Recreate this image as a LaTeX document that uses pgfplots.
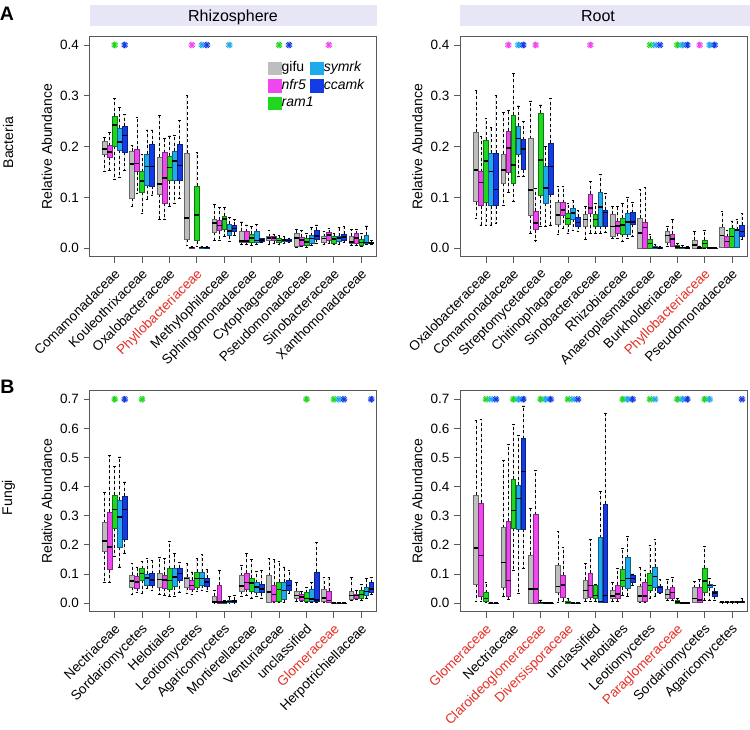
\documentclass[border=0pt]{standalone}
\usepackage{fontspec}
\setmainfont{Liberation Sans}
\usepackage{pgfplots}
\pgfplotsset{compat=1.18}
\usepgfplotslibrary{statistics}

\definecolor{cgifu}{RGB}{190,190,190}
\definecolor{cnfr}{RGB}{240,70,240}
\definecolor{cram}{RGB}{30,215,30}
\definecolor{csym}{RGB}{30,170,235}
\definecolor{ccam}{RGB}{20,60,230}
\definecolor{cred}{RGB}{230,45,35}
\definecolor{strip}{RGB}{230,230,246}

% box: colour, offset, group, lower whisker, Q1, median, Q3, upper whisker
\newcommand{\bp}[8]{%
  \addplot[forget plot, fill=#1, draw=#1!55!black, line width=0.5pt,
    boxplot prepared={draw direction=y, draw position={#3+(#2)}, lower whisker=#4, lower quartile=#5,
      median=#6, upper quartile=#7, upper whisker=#8}] coordinates {};}
\newcommand{\bxG}[6]{\bp{cgifu}{-0.365}{#1}{#2}{#3}{#4}{#5}{#6}}
\newcommand{\bxN}[6]{\bp{cnfr}{-0.1825}{#1}{#2}{#3}{#4}{#5}{#6}}
\newcommand{\bxR}[6]{\bp{cram}{0}{#1}{#2}{#3}{#4}{#5}{#6}}
\newcommand{\bxS}[6]{\bp{csym}{0.1825}{#1}{#2}{#3}{#4}{#5}{#6}}
\newcommand{\bxC}[6]{\bp{ccam}{0.365}{#1}{#2}{#3}{#4}{#5}{#6}}
% significance asterisks
\newcommand{\sig}[2]{%
  \addplot[forget plot, only marks, mark=asterisk, mark size=3.4pt, color=#1, line width=0.9pt] coordinates {#2};
  \addplot[forget plot, only marks, mark=asterisk, mark size=3.4pt, mark options={rotate=90}, color=#1, line width=0.9pt] coordinates {#2};}

\newcommand{\tf}{\fontsize{13.5}{14}\selectfont}
\pgfplotsset{
  panel/.style={
    scale only axis, height=220pt,
    xtick={1,...,10}, xtick pos=bottom, ytick pos=left,
    tick align=outside, major tick length=6pt,
    axis line style={draw=black!65, line width=0.9pt},
    every tick/.style={black!65, line width=0.9pt},
    xticklabel style={yshift=-5pt, xshift=-1pt, rotate=45, anchor=north east, inner sep=0pt, font=\tf},
    yticklabel style={font=\tf, inner sep=1.5pt, xshift=-3pt},
    scaled y ticks=false,
    ylabel={Relative Abundance},
    every axis y label/.style={at={(axis description cs:-0.149,0.5)}, rotate=90, anchor=center, font=\fontsize{14}{16}\selectfont},
    boxplot/draw direction=y,
    boxplot/box extend=0.175,
    boxplot/whisker extend=0.1,
    boxplot/every median/.style={black, line width=1.5pt},
    boxplot/every whisker/.style={black, line width=0.7pt, dash pattern=on 3pt off 2.5pt},
    /pgf/number format/assume math mode=true,
  },
  bact/.style={panel, ymin=-0.0165, ymax=0.4163, ytick={0,0.1,0.2,0.3,0.4}, yticklabels={0.0,0.1,0.2,0.3,0.4}},
  fung/.style={panel, height=221pt, ymin=-0.0295, ymax=0.7294, ytick={0,0.1,0.2,0.3,0.4,0.5,0.6,0.7}, yticklabels={0.0,0.1,0.2,0.3,0.4,0.5,0.6,0.7}},
}

\begin{document}
\begin{tikzpicture}
\path[use as bounding box] (0pt,0pt) rectangle (750pt,729pt);

% strips and panel letters
\fill[strip] (89.5pt,703.3pt) rectangle (377pt,724pt);
\node[anchor=base, font=\fontsize{16}{18}\selectfont] at (233pt,707pt) {Rhizosphere};
\fill[strip] (460pt,703.3pt) rectangle (750pt,724pt);
\node[anchor=base, font=\fontsize{16}{18}\selectfont] at (598pt,707pt) {Root};
\node[font=\fontsize{19.5}{20}\selectfont\bfseries, inner sep=0pt] at (7pt,715.3pt) {A};
\node[font=\fontsize{19.5}{20}\selectfont\bfseries, inner sep=0pt] at (7.5pt,342pt) {B};
\node[rotate=90, font=\fontsize{14}{16}\selectfont] at (8pt,586.5pt) {Bacteria};
\node[rotate=90, font=\fontsize{14}{16}\selectfont] at (8.5pt,231.5pt) {Fungi};

% ---------------- Bacteria, Rhizosphere ----------------
\begin{axis}[bact, at={(89.7pt,472.3pt)}, anchor=south west, width=286.6pt,
  xmin=0.089, xmax=10.547,
  xticklabels={Comamonadaceae, Kouleothrixaceae, Oxalobacteraceae, \textcolor{cred}{Phyllobacteriaceae}, Methylophilaceae, Sphingomonadaceae, Cytophagaceae, Pseudomonadaceae, Sinobacteraceae, Xanthomonadaceae},
  legend columns=2,
  legend image code/.code={\fill (0pt,-6.3pt) rectangle (12.6pt,6.3pt);},
  legend style={draw=none, fill=none, inner sep=0pt, row sep=0pt,
    at={(axis description cs:0.622,0.8975)}, anchor=north west,
    font=\fontsize{14}{16}\selectfont,
    nodes={inner sep=2pt, text height=10.5pt, text depth=3pt},
    /tikz/every odd column/.append style={column sep=-1.5pt},
    /tikz/every even column/.append style={column sep=-5.3pt}},
  legend cell align=left]
\addlegendimage{cgifu}\addlegendentry{gifu}
\addlegendimage{csym}\addlegendentry{\textit{symrk}}
\addlegendimage{cnfr}\addlegendentry{\textit{nfr5}}
\addlegendimage{ccam}\addlegendentry{\textit{ccamk}}
\addlegendimage{cram}\addlegendentry{\textit{ram1}}
\bxG{1}{0.152}{0.185}{0.195}{0.211}{0.218}
\bxN{1}{0.153}{0.180}{0.189}{0.202}{0.228}
\bxR{1}{0.136}{0.201}{0.243}{0.260}{0.295}
\bxS{1}{0.139}{0.193}{0.209}{0.237}{0.277}
\bxC{1}{0.154}{0.189}{0.222}{0.240}{0.264}
\bxG{2}{0.082}{0.098}{0.166}{0.191}{0.202}
\bxN{2}{0.108}{0.151}{0.167}{0.195}{0.257}
\bxR{2}{0.068}{0.110}{0.132}{0.151}{0.185}
\bxS{2}{0.096}{0.124}{0.161}{0.186}{0.233}
\bxC{2}{0.105}{0.123}{0.161}{0.205}{0.233}
\bxG{3}{0.057}{0.106}{0.127}{0.180}{0.261}
\bxN{3}{0.057}{0.089}{0.138}{0.188}{0.216}
\bxR{3}{0.082}{0.133}{0.159}{0.182}{0.221}
\bxS{3}{0.089}{0.133}{0.172}{0.191}{0.222}
\bxC{3}{0.098}{0.133}{0.163}{0.205}{0.251}
\bxG{4}{0.005}{0.018}{0.060}{0.187}{0.300}
\bxN{4}{0.000}{0.001}{0.002}{0.003}{0.004}
\bxR{4}{0.003}{0.015}{0.066}{0.123}{0.188}
\bxS{4}{0.000}{0.001}{0.002}{0.003}{0.004}
\bxC{4}{0.000}{0.001}{0.002}{0.003}{0.004}
\bxG{5}{0.015}{0.032}{0.050}{0.057}{0.087}
\bxN{5}{0.015}{0.035}{0.045}{0.056}{0.080}
\bxR{5}{0.023}{0.038}{0.058}{0.064}{0.080}
\bxS{5}{0.013}{0.025}{0.034}{0.047}{0.060}
\bxC{5}{0.026}{0.033}{0.039}{0.045}{0.056}
\bxG{6}{0.007}{0.012}{0.014}{0.034}{0.052}
\bxN{6}{0.007}{0.012}{0.014}{0.033}{0.046}
\bxR{6}{0.005}{0.012}{0.020}{0.028}{0.043}
\bxS{6}{0.007}{0.012}{0.015}{0.033}{0.047}
\bxC{6}{0.012}{0.014}{0.016}{0.019}{0.020}
\bxG{7}{0.007}{0.015}{0.020}{0.023}{0.036}
\bxN{7}{0.010}{0.016}{0.020}{0.024}{0.028}
\bxR{7}{0.008}{0.012}{0.015}{0.019}{0.025}
\bxS{7}{0.010}{0.013}{0.016}{0.018}{0.023}
\bxC{7}{0.011}{0.013}{0.015}{0.017}{0.019}
\bxG{8}{0.002}{0.005}{0.020}{0.030}{0.037}
\bxN{8}{0.003}{0.007}{0.016}{0.022}{0.036}
\bxR{8}{0.002}{0.007}{0.012}{0.020}{0.030}
\bxS{8}{0.006}{0.010}{0.019}{0.025}{0.041}
\bxC{8}{0.010}{0.018}{0.024}{0.036}{0.046}
\bxG{9}{0.007}{0.012}{0.019}{0.023}{0.033}
\bxN{9}{0.010}{0.015}{0.026}{0.031}{0.039}
\bxR{9}{0.007}{0.010}{0.018}{0.023}{0.030}
\bxS{9}{0.008}{0.014}{0.020}{0.024}{0.041}
\bxC{9}{0.011}{0.015}{0.022}{0.028}{0.043}
\bxG{10}{0.005}{0.009}{0.012}{0.024}{0.037}
\bxN{10}{0.005}{0.010}{0.020}{0.029}{0.037}
\bxR{10}{0.003}{0.007}{0.011}{0.018}{0.030}
\bxS{10}{0.007}{0.010}{0.011}{0.026}{0.044}
\bxC{10}{0.007}{0.009}{0.010}{0.012}{0.015}
\sig{cnfr}{(3.8175,0.4) (8.8175,0.4)}
\sig{cram}{(1,0.4) (7,0.4)}
\sig{csym}{(4.1825,0.4) (5.1825,0.4)}
\sig{ccam}{(1.365,0.4) (4.365,0.4) (7.365,0.4)}
\end{axis}

% ---------------- Bacteria, Root ----------------
\begin{axis}[bact, at={(460pt,472.3pt)}, anchor=south west, width=287.3pt,
  xmin=0.049, xmax=10.56,
  xticklabels={Oxalobacteraceae, Comamonadaceae, Streptomycetaceae, Chitinophagaceae, Sinobacteraceae, Rhizobiaceae, Anaeroplasmataceae, Burkholderiaceae, \textcolor{cred}{Phyllobacteriaceae}, Pseudomonadaceae},
  every axis y label/.append style={at={(axis description cs:-0.148,0.5)}}]
\bxG{1}{0.059}{0.092}{0.154}{0.228}{0.311}
\bxN{1}{0.046}{0.084}{0.129}{0.151}{0.220}
\bxR{1}{0.046}{0.090}{0.172}{0.213}{0.256}
\bxS{1}{0.046}{0.084}{0.151}{0.187}{0.238}
\bxC{1}{0.050}{0.084}{0.116}{0.187}{0.300}
\bxG{2}{0.085}{0.128}{0.154}{0.186}{0.268}
\bxN{2}{0.110}{0.150}{0.197}{0.231}{0.271}
\bxR{2}{0.093}{0.128}{0.164}{0.262}{0.344}
\bxS{2}{0.141}{0.185}{0.216}{0.241}{0.280}
\bxC{2}{0.141}{0.155}{0.195}{0.214}{0.250}
\bxG{3}{0.030}{0.066}{0.115}{0.216}{0.290}
\bxN{3}{0.015}{0.037}{0.050}{0.073}{0.118}
\bxR{3}{0.043}{0.105}{0.174}{0.266}{0.282}
\bxS{3}{0.043}{0.089}{0.119}{0.161}{0.200}
\bxC{3}{0.046}{0.106}{0.161}{0.207}{0.295}
\bxG{4}{0.028}{0.047}{0.066}{0.090}{0.121}
\bxN{4}{0.039}{0.066}{0.075}{0.090}{0.121}
\bxR{4}{0.030}{0.048}{0.059}{0.069}{0.089}
\bxS{4}{0.036}{0.058}{0.069}{0.079}{0.095}
\bxC{4}{0.034}{0.044}{0.051}{0.061}{0.075}
\bxG{5}{0.018}{0.043}{0.057}{0.067}{0.082}
\bxN{5}{0.030}{0.068}{0.079}{0.106}{0.131}
\bxR{5}{0.030}{0.044}{0.057}{0.067}{0.089}
\bxS{5}{0.030}{0.044}{0.081}{0.111}{0.146}
\bxC{5}{0.031}{0.044}{0.070}{0.075}{0.108}
\bxG{6}{0.020}{0.024}{0.043}{0.067}{0.082}
\bxN{6}{0.020}{0.030}{0.044}{0.054}{0.082}
\bxR{6}{0.014}{0.028}{0.046}{0.059}{0.089}
\bxS{6}{0.020}{0.028}{0.052}{0.069}{0.100}
\bxC{6}{0.023}{0.047}{0.052}{0.070}{0.090}
\bxG{7}{0.000}{0.000}{0.030}{0.059}{0.116}
\bxN{7}{0.000}{0.000}{0.041}{0.051}{0.120}
\bxR{7}{0.000}{0.000}{0.009}{0.018}{0.028}
\bxS{7}{0.000}{0.000}{0.002}{0.005}{0.008}
\bxC{7}{0.000}{0.000}{0.001}{0.002}{0.003}
\bxG{8}{0.003}{0.012}{0.025}{0.034}{0.043}
\bxN{8}{0.003}{0.005}{0.018}{0.028}{0.056}
\bxR{8}{0.000}{0.001}{0.003}{0.006}{0.010}
\bxS{8}{0.000}{0.001}{0.002}{0.003}{0.005}
\bxC{8}{0.000}{0.000}{0.001}{0.002}{0.003}
\bxG{9}{0.000}{0.001}{0.007}{0.016}{0.033}
\bxN{9}{0.000}{0.000}{0.001}{0.002}{0.003}
\bxR{9}{0.000}{0.002}{0.009}{0.016}{0.036}
\bxS{9}{0.000}{0.000}{0.001}{0.001}{0.002}
\bxC{9}{0.000}{0.000}{0.001}{0.001}{0.002}
\bxG{10}{0.002}{0.003}{0.025}{0.041}{0.072}
\bxN{10}{0.002}{0.003}{0.013}{0.023}{0.036}
\bxR{10}{0.002}{0.003}{0.023}{0.039}{0.054}
\bxS{10}{0.002}{0.003}{0.036}{0.037}{0.057}
\bxC{10}{0.017}{0.023}{0.033}{0.045}{0.068}
\sig{cnfr}{(1.8175,0.4) (2.8175,0.4) (4.8175,0.4) (8.8175,0.4)}
\sig{cram}{(7,0.4) (8,0.4)}
\sig{csym}{(2.1825,0.4) (7.1825,0.4) (8.1825,0.4) (9.1825,0.4)}
\sig{ccam}{(2.365,0.4) (7.365,0.4) (8.365,0.4) (9.365,0.4)}
\end{axis}

% ---------------- Fungi, Rhizosphere ----------------
\begin{axis}[fung, at={(89.7pt,117.3pt)}, anchor=south west, width=286.6pt,
  xmin=0.089, xmax=10.547,
  xticklabels={Nectriaceae, Sordariomycetes, Helotiales, Leotiomycetes, Agaricomycetes, Mortierellaceae, Venturiaceae, unclassified, \textcolor{cred}{Glomeraceae}, Herpotrichiellaceae}]
\bxG{1}{0.072}{0.179}{0.213}{0.276}{0.381}
\bxN{1}{0.072}{0.115}{0.192}{0.313}{0.507}
\bxR{1}{0.160}{0.257}{0.322}{0.371}{0.469}
\bxS{1}{0.124}{0.192}{0.296}{0.353}{0.502}
\bxC{1}{0.170}{0.221}{0.321}{0.367}{0.416}
\bxG{2}{0.030}{0.055}{0.076}{0.095}{0.137}
\bxN{2}{0.036}{0.052}{0.072}{0.093}{0.124}
\bxR{2}{0.032}{0.078}{0.101}{0.118}{0.144}
\bxS{2}{0.049}{0.063}{0.086}{0.099}{0.152}
\bxC{2}{0.044}{0.061}{0.080}{0.101}{0.147}
\bxG{3}{0.029}{0.053}{0.081}{0.104}{0.158}
\bxN{3}{0.026}{0.052}{0.080}{0.095}{0.152}
\bxR{3}{0.023}{0.049}{0.078}{0.118}{0.212}
\bxS{3}{0.023}{0.057}{0.089}{0.121}{0.172}
\bxC{3}{0.038}{0.078}{0.101}{0.121}{0.141}
\bxG{4}{0.032}{0.055}{0.084}{0.088}{0.135}
\bxN{4}{0.029}{0.047}{0.061}{0.078}{0.107}
\bxR{4}{0.040}{0.055}{0.084}{0.107}{0.152}
\bxS{4}{0.044}{0.063}{0.084}{0.107}{0.166}
\bxC{4}{0.041}{0.057}{0.072}{0.086}{0.115}
\bxG{5}{0.001}{0.002}{0.003}{0.023}{0.044}
\bxN{5}{0.001}{0.001}{0.003}{0.061}{0.112}
\bxR{5}{0.000}{0.001}{0.003}{0.006}{0.009}
\bxS{5}{0.001}{0.002}{0.006}{0.011}{0.023}
\bxC{5}{0.001}{0.002}{0.007}{0.011}{0.026}
\bxG{6}{0.024}{0.041}{0.058}{0.094}{0.129}
\bxN{6}{0.026}{0.049}{0.070}{0.103}{0.170}
\bxR{6}{0.018}{0.041}{0.069}{0.086}{0.149}
\bxS{6}{0.024}{0.038}{0.055}{0.070}{0.110}
\bxC{6}{0.018}{0.036}{0.049}{0.066}{0.112}
\bxG{7}{0.001}{0.003}{0.038}{0.094}{0.152}
\bxN{7}{0.001}{0.006}{0.029}{0.063}{0.150}
\bxR{7}{0.001}{0.006}{0.047}{0.072}{0.144}
\bxS{7}{0.003}{0.013}{0.044}{0.072}{0.124}
\bxC{7}{0.032}{0.044}{0.061}{0.077}{0.112}
\bxG{8}{0.006}{0.015}{0.026}{0.040}{0.070}
\bxN{8}{0.006}{0.011}{0.021}{0.030}{0.040}
\bxR{8}{0.001}{0.006}{0.015}{0.036}{0.055}
\bxS{8}{0.001}{0.008}{0.014}{0.047}{0.072}
\bxC{8}{0.001}{0.006}{0.011}{0.107}{0.207}
\bxG{9}{0.001}{0.006}{0.017}{0.047}{0.089}
\bxN{9}{0.001}{0.003}{0.009}{0.041}{0.089}
\bxR{9}{0.000}{0.000}{0.001}{0.001}{0.002}
\bxS{9}{0.000}{0.000}{0.001}{0.001}{0.002}
\bxC{9}{0.000}{0.000}{0.001}{0.001}{0.002}
\bxG{10}{0.009}{0.014}{0.026}{0.042}{0.089}
\bxN{10}{0.013}{0.017}{0.026}{0.032}{0.044}
\bxR{10}{0.009}{0.015}{0.029}{0.044}{0.064}
\bxS{10}{0.018}{0.026}{0.040}{0.055}{0.084}
\bxC{10}{0.029}{0.036}{0.049}{0.070}{0.088}
\sig{cram}{(1,0.7) (2,0.7) (8,0.7) (9,0.7)}
\sig{csym}{(9.1825,0.7)}
\sig{ccam}{(1.365,0.7) (9.365,0.7) (10.365,0.7)}
\end{axis}

% ---------------- Fungi, Root ----------------
\begin{axis}[fung, at={(460pt,117.3pt)}, anchor=south west, width=287.3pt,
  xmin=0.049, xmax=10.56,
  xticklabels={\textcolor{cred}{Glomeraceae}, Nectriaceae, \textcolor{cred}{Claroideoglomeraceae}, \textcolor{cred}{Diversisporaceae}, unclassified, Helotiales, Leotiomycetes, \textcolor{cred}{Paraglomeraceae}, Sordariomycetes, Agaricomycetes},
  every axis y label/.append style={at={(axis description cs:-0.148,0.5)}}]
\bxG{1}{0.006}{0.064}{0.189}{0.372}{0.628}
\bxN{1}{0.006}{0.022}{0.164}{0.344}{0.631}
\bxR{1}{0.001}{0.006}{0.015}{0.036}{0.072}
\bxS{1}{0.000}{0.000}{0.001}{0.001}{0.002}
\bxC{1}{0.000}{0.000}{0.001}{0.001}{0.002}
\bxG{2}{0.024}{0.054}{0.140}{0.259}{0.490}
\bxN{2}{0.013}{0.025}{0.078}{0.281}{0.546}
\bxR{2}{0.112}{0.258}{0.318}{0.425}{0.613}
\bxS{2}{0.032}{0.255}{0.359}{0.404}{0.576}
\bxC{2}{0.120}{0.255}{0.452}{0.565}{0.677}
\bxG{3}{0.000}{0.000}{0.049}{0.164}{0.326}
\bxN{3}{0.000}{0.000}{0.049}{0.304}{0.456}
\bxR{3}{0.000}{0.001}{0.002}{0.004}{0.011}
\bxS{3}{0.000}{0.000}{0.001}{0.001}{0.002}
\bxC{3}{0.000}{0.000}{0.001}{0.001}{0.002}
\bxG{4}{0.004}{0.038}{0.057}{0.129}{0.247}
\bxN{4}{0.006}{0.019}{0.063}{0.097}{0.190}
\bxR{4}{0.000}{0.001}{0.002}{0.006}{0.015}
\bxS{4}{0.000}{0.000}{0.001}{0.001}{0.002}
\bxC{4}{0.000}{0.000}{0.001}{0.001}{0.002}
\bxG{5}{0.006}{0.017}{0.044}{0.078}{0.135}
\bxN{5}{0.006}{0.021}{0.061}{0.103}{0.218}
\bxR{5}{0.006}{0.017}{0.026}{0.061}{0.065}
\bxS{5}{0.001}{0.003}{0.006}{0.225}{0.384}
\bxC{5}{0.001}{0.003}{0.026}{0.341}{0.651}
\bxG{6}{0.006}{0.015}{0.024}{0.044}{0.072}
\bxN{6}{0.006}{0.015}{0.032}{0.063}{0.118}
\bxR{6}{0.026}{0.057}{0.078}{0.116}{0.187}
\bxS{6}{0.024}{0.052}{0.084}{0.156}{0.230}
\bxC{6}{0.061}{0.072}{0.084}{0.095}{0.100}
\bxG{7}{0.001}{0.006}{0.024}{0.057}{0.124}
\bxN{7}{0.001}{0.006}{0.024}{0.072}{0.112}
\bxR{7}{0.018}{0.044}{0.061}{0.103}{0.198}
\bxS{7}{0.024}{0.053}{0.092}{0.124}{0.218}
\bxC{7}{0.032}{0.036}{0.053}{0.057}{0.080}
\bxG{8}{0.008}{0.017}{0.029}{0.047}{0.080}
\bxN{8}{0.008}{0.018}{0.036}{0.053}{0.089}
\bxR{8}{0.000}{0.001}{0.003}{0.009}{0.015}
\bxS{8}{0.000}{0.000}{0.001}{0.001}{0.002}
\bxC{8}{0.000}{0.000}{0.001}{0.001}{0.002}
\bxG{9}{0.001}{0.003}{0.015}{0.053}{0.074}
\bxN{9}{0.001}{0.003}{0.011}{0.055}{0.080}
\bxR{9}{0.008}{0.036}{0.076}{0.120}{0.196}
\bxS{9}{0.008}{0.053}{0.061}{0.066}{0.084}
\bxC{9}{0.009}{0.024}{0.034}{0.041}{0.061}
\bxG{10}{0.001}{0.002}{0.003}{0.004}{0.005}
\bxN{10}{0.001}{0.002}{0.003}{0.004}{0.005}
\bxR{10}{0.001}{0.002}{0.003}{0.004}{0.006}
\bxS{10}{0.001}{0.002}{0.003}{0.005}{0.007}
\bxC{10}{0.002}{0.003}{0.004}{0.007}{0.015}
\sig{cram}{(1,0.7) (2,0.7) (3,0.7) (4,0.7) (6,0.7) (7,0.7) (8,0.7) (9,0.7)}
\sig{csym}{(1.1825,0.7) (2.1825,0.7) (3.1825,0.7) (4.1825,0.7) (6.1825,0.7) (7.1825,0.7) (8.1825,0.7) (9.1825,0.7)}
\sig{ccam}{(1.365,0.7) (2.365,0.7) (3.365,0.7) (4.365,0.7) (6.365,0.7) (8.365,0.7) (10.365,0.7)}
\end{axis}
\end{tikzpicture}
\end{document}
